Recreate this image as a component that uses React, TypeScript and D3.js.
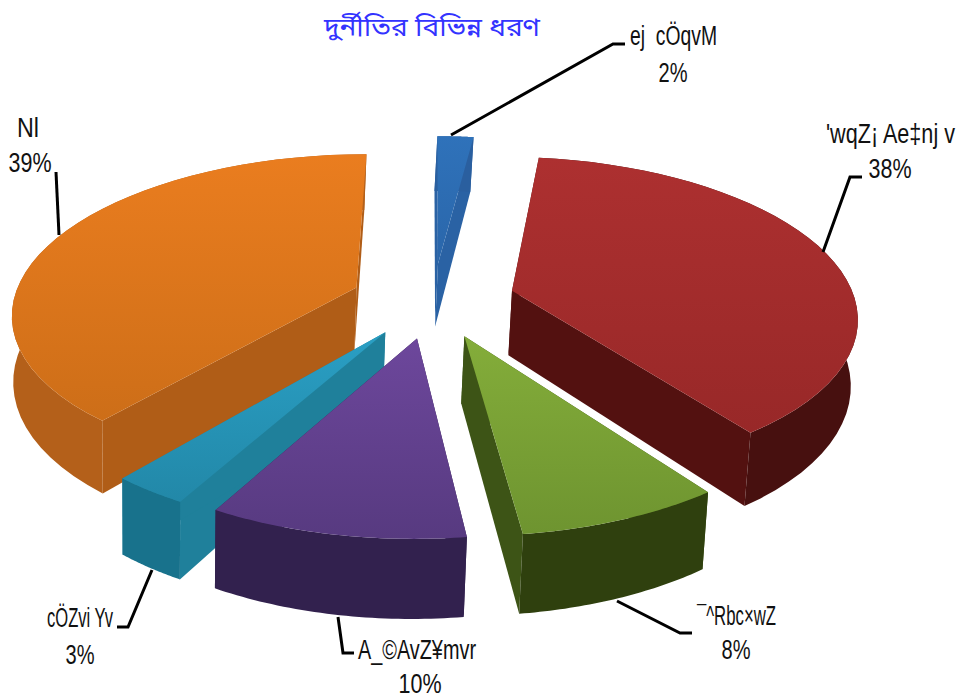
import React from "react";
import * as d3 from "d3";

const W = 965, H = 699;
const titleText = "দুর্নীতির বিভিন্ন ধরণ";
const categories = ["ej  cÖqvM", "'wqZ¡ Ae‡nj v", "¯^Rbc×wZ", "A_©AvZ¥mvr", "cÖZvi Yv", "Nl"];
const values = [2, 38, 8, 10, 3, 39];
const percentLabels = ["2%", "38%", "8%", "10%", "3%", "39%"];
const topColors = [["#2f72ba", "#2a66aa"], ["#ad3030", "#982828"], ["#84ad3a", "#6e9430"], ["#6d479c", "#573a80"], ["#2a9fc4", "#2288a8"], ["#ea7d1f", "#cd6e18"]];
const rimColors = ["#2a5f9f", "#47100f", "#2f400e", "#32214e", "#18728c", "#b4601a"];
const cutColors = ["#2a62a4", "#531110", "#3d5416", "#32214e", "#1f809b", "#b05d17"];
// Back-to-front painting order of the slices
const paintOrder = [0, 5, 1, 4, 3, 2];

// Label placement: name [x, baseline, width], percent [centre, baseline], leader polyline
const nameBoxes = [[630, 45, 87], [826, 143, 129], [697, 625, 79], [358, 659, 118], [47, 627, 66], [17, 137, 22]];
const pctBoxes = [[673, 82], [890, 178], [736, 659], [420, 693], [80, 664], [30, 172]];
const leaders: [number, number][][] = [
  [[451, 135], [613, 44], [625, 44]],
  [[823, 252], [850, 177], [862, 177]],
  [[617, 601], [680, 633], [692, 633]],
  [[338, 617], [343, 653], [354, 653]],
  [[152, 570], [128, 627], [117, 627]],
  [[59, 235], [56, 172]],
];

const explode = 0.24, persp = 0.152, depth = 65, cx = 433, cy = 300;
const sx = d3.scaleLinear().domain([-1, 1]).range([cx - 343, cx + 343]);
const sy = d3.scaleLinear().domain([-1, 1]).range([cy + 157, cy - 157]);

type P = [number, number];
function project(x: number, y: number, low: boolean): P {
  const w = 1 + persp * y;
  const px = sx(x / w), py = sy(y / w);
  return low ? [px - (px - 150) * 0.01, py + depth / w] : [px, py];
}

const arcs = d3.pie<number>().sort(null).startAngle(0).endAngle(2 * Math.PI)(values);
const line = d3.line<P>();

function slice(i: number) {
  const a = arcs[i];
  const mid = (a.startAngle + a.endAngle) / 2;
  const ox = explode * Math.sin(mid), oy = explode * Math.cos(mid);
  const angles = d3.range(0, 41).map((k) => a.startAngle + ((a.endAngle - a.startAngle) * k) / 40);
  const rim = (low: boolean) => angles.map((t) => project(ox + Math.sin(t), oy + Math.cos(t), low));
  const apex = (low: boolean) => project(ox, oy, low);
  const top = rim(false), bottom = rim(true);
  return {
    top: line([apex(false), ...top])! + "Z",
    rim: line([...top, ...[...bottom].reverse()])! + "Z",
    cutA: line([apex(false), top[0], bottom[0], apex(true)])! + "Z",
    cutB: line([apex(false), top[40], bottom[40], apex(true)])! + "Z",
  };
}

export default function App() {
  const font = "'Liberation Sans Narrow', 'Liberation Sans', Arial, sans-serif";
  return (
    <svg width={W} height={H} viewBox={`0 0 ${W} ${H}`} style={{ position: "absolute", left: 0, top: 0, background: "#fff" }}>
      <defs>
        {topColors.map((c, i) => (
          <linearGradient key={i} id={`top${i}`} x1="0" y1="0" x2="0" y2="1">
            <stop offset="0" stopColor={c[0]} />
            <stop offset="1" stopColor={c[1]} />
          </linearGradient>
        ))}
      </defs>
      <text x={432} y={36} textAnchor="middle" fontSize={26} fill="#3333ff" fontFamily="'Noto Sans Bengali','Noto Sans',sans-serif" textLength={216} lengthAdjust="spacingAndGlyphs">
        {titleText}
      </text>
      {paintOrder.map((i) => {
        const s = slice(i);
        return (
          <g key={i}>
            <path d={s.cutA} fill={cutColors[i]} />
            <path d={s.cutB} fill={cutColors[i]} />
            <path d={s.rim} fill={rimColors[i]} />
            <path d={s.top} fill={`url(#top${i})`} />
          </g>
        );
      })}
      {leaders.map((l, i) => (
        <path key={i} d={line(l)!} fill="none" stroke="#000" strokeWidth={3} />
      ))}
      {categories.map((c, i) => (
        <g key={i} fontFamily={font} fontSize={27} fill="#111">
          <text x={nameBoxes[i][0]} y={nameBoxes[i][1]} textLength={nameBoxes[i][2]} lengthAdjust="spacingAndGlyphs" xmlSpace="preserve">{c}</text>
          <text x={pctBoxes[i][0]} y={pctBoxes[i][1]} textAnchor="middle" textLength={percentLabels[i].length === 2 ? 29 : 43} lengthAdjust="spacingAndGlyphs">{percentLabels[i]}</text>
        </g>
      ))}
    </svg>
  );
}
